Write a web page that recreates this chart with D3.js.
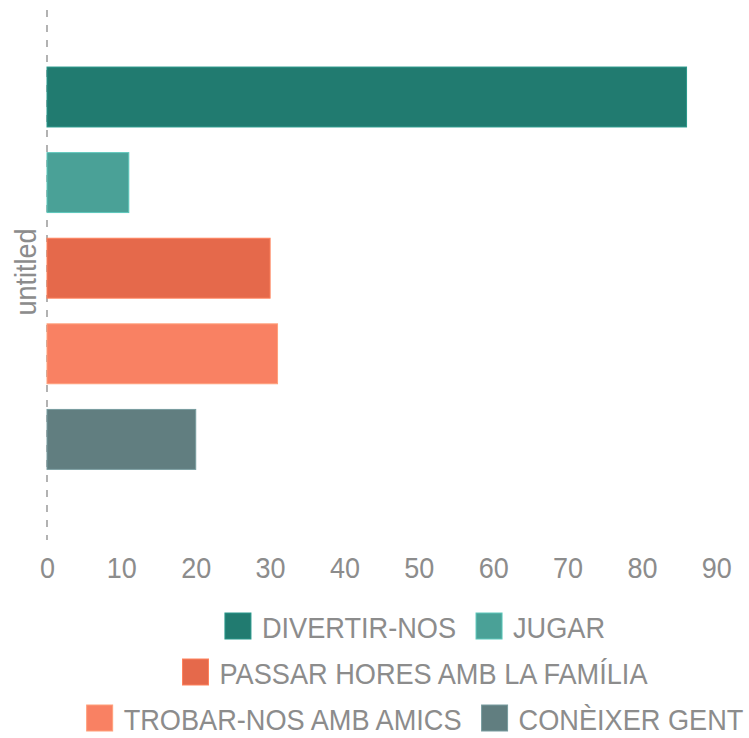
<!DOCTYPE html>
<html><head><meta charset="utf-8">
<script src="https://cdn.jsdelivr.net/npm/d3@7"></script>
<style>html,body{margin:0;padding:0;background:#fff;}</style>
</head><body>
<svg id="c" width="749" height="738"></svg>
<script>
const categories = ["DIVERTIR-NOS","JUGAR","PASSAR HORES AMB LA FAMÍLIA","TROBAR-NOS AMB AMICS","CONÈIXER GENT"];
const values = [86, 11, 30, 31, 20];
const colors = ["#217b70","#4aa197","#e5694b","#f98163","#617e80"];
const xTicks = [0,10,20,30,40,50,60,70,80,90];
const axisTitle = "untitled";
const legendRows = [[0,1],[2],[3,4]];

const svg = d3.select("#c");
const font = "'Liberation Sans', Arial, sans-serif";
const textColor = "#8c8c8c";
const sx = 0.9, sxL = 0.905;

const x = d3.scaleLinear().domain([0,90]).range([47,716.3]);
const y = d3.scaleBand().domain(categories).range([54.2, 54.2+85.6*5]).paddingInner(0.3).paddingOuter(0.15);

// dashed baseline
svg.append("line").attr("x1",x(0)).attr("x2",x(0)).attr("y1",10).attr("y2",540)
  .attr("stroke","#8a8a8a").attr("stroke-width",1.3).attr("stroke-dasharray","7,8");

// bars
svg.selectAll("rect.bar").data(categories).join("rect").attr("class","bar")
  .attr("x",x(0)).attr("y",d=>y(d)).attr("height",y.bandwidth())
  .attr("width",(d,i)=>x(values[i])-x(0))
  .attr("fill",(d,i)=>colors[i])
  .attr("stroke",(d,i)=>d3.color(colors[i]).brighter(0.6))
  .attr("stroke-width",1);

// x axis
const axis = d3.axisBottom(x).tickValues(xTicks).tickSize(0).tickPadding(0);
const gx = svg.append("g").attr("transform","translate(0,556)").call(axis);
gx.select(".domain").remove();
gx.selectAll("text").attr("font-family",font).attr("font-size",30).attr("fill",textColor)
  .attr("dy","0.72em").attr("transform",`scale(${sx},1)`);

// axis title
svg.append("text").attr("transform",`translate(36,272) rotate(-90) scale(${sx},1)`)
  .attr("text-anchor","middle").attr("font-family",font).attr("font-size",30)
  .attr("fill",textColor).text(axisTitle);

// legend
const cx = 415, sq = 26, gapT = 11, gapI = 20;
const rowTop = [613, 659, 705];
legendRows.forEach((row, r) => {
  const g = svg.append("g");
  let xpos = 0;
  row.forEach(i => {
    g.append("rect").attr("x",xpos).attr("y",rowTop[r]).attr("width",sq).attr("height",sq)
      .attr("fill",colors[i]).attr("stroke",d3.color(colors[i]).brighter(0.6)).attr("stroke-width",1);
    const t = g.append("text")
      .attr("transform",`translate(${xpos+sq+gapT},${rowTop[r]+sq-1}) scale(${sxL},1)`)
      .attr("font-family",font).attr("font-size",30).attr("fill",textColor).text(categories[i]);
    xpos += sq + gapT + t.node().getComputedTextLength()*sxL + gapI;
  });
  const w = xpos - gapI;
  g.attr("transform",`translate(${cx - w/2},0)`);
});
</script>
</body></html>
